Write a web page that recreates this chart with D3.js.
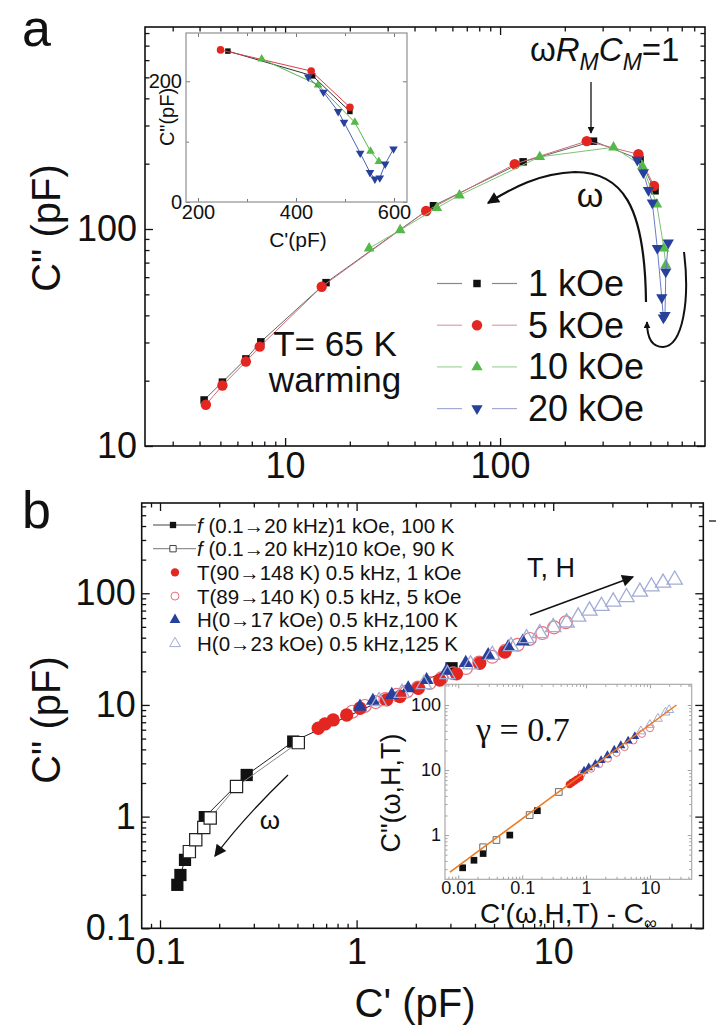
<!DOCTYPE html>
<html><head><meta charset="utf-8">
<script src="https://cdn.jsdelivr.net/npm/d3@7"></script>
<style>
body{margin:0;background:#fff}
svg{display:block}
text{font-family:"Liberation Sans",Arial,sans-serif;fill:#111}
</style></head>
<body><svg id="c" width="719" height="1029"></svg>
<script>
// ================= DATA =================
// Panel a, main (log-log)
const aLabels = ["1 kOe","5 kOe","10 kOe","20 kOe"];
const a1X  = [4.20,5.11,6.57,7.71,15.5,49.0,128,272,448,526];
const a1Y  = [16.3,19.7,25.2,30.2,56.6,128,204,254,209,150];
const a5X  = [4.28,5.11,6.57,7.62,14.8,45.3,117,253,440,520];
const a5Y  = [15.5,19.0,24.5,28.7,54.2,121,199,254,221,158];
const a10X = [24.6,34.3,50.8,64.7,153,337,459,536,578,590];
const a10Y = [81.5,98.9,125,143,215,238,195,130,81.5,68.2];
const a20X = [435,464,490,511,539,565,575,585,590,606];
const a20Y = [208,182,151,132,81.5,48.4,39.0,40.0,63.6,86.5];
const aXTicks = [10,100];
const aYTicks = [10,100];
// Panel a, inset (linear)
const i1X = [261,434,510],  i1Y = [250,209,150];
const i5X = [246,431,510],  i5Y = [252,217,157];
const i10X = [330,445,520,552,569], i10Y = [237,194,132,84,67];
const i20X = [425,456,486,498,531,551,561,571,582,599];
const i20Y = [207,182,150,132,81,49,38,40,63,88];
const iXTicks = [200,400,600], iYTicks = [0,200];

// Panel b, main (log-log)
const bLabels = ["(0.1\u219220 kHz)1 kOe, 100 K","(0.1\u219220 kHz)10 kOe, 90 K",
  "T(90\u2192148 K) 0.5 kHz, 1 kOe","T(89\u2192140 K) 0.5 kHz, 5 kOe",
  "H(0\u219217 kOe) 0.5 kHz,100 K","H(0\u219223 kOe) 0.5 kHz,125 K"];
const fBlackX = [0.1225,0.127,0.134,0.169,0.276,0.476,3.04];
const fBlackY = [0.245,0.30,0.41,0.99,2.36,4.7,21.3];
const fOpenX  = [0.141,0.152,0.167,0.18,0.245,0.505];
const fOpenY  = [0.486,0.62,0.80,0.97,1.86,4.6];
const tRedX = [0.638,0.69,0.76,0.89,1.04,1.42,1.66,2.06,2.65,3.22,4.23,5.67];
const tRedY = [6.19,6.76,7.34,8.13,9.34,11.1,11.9,14.1,16.7,19.0,23.6,29.8];
const tOpenX = [0.95,1.1,1.25,1.4,1.6,1.8,2.05,2.35,2.7,3.1,3.6,4.2,4.9,5.7,6.6,7.6,8.8,10.1,11.6];
const tOpenY = [8.7,9.8,10.6,11.3,12.3,13.2,14.3,15.7,17.3,19.2,21.4,24,27,30.5,34.6,39,44,49.5,55];
const hBlueX = [1.04,1.21,1.51,1.83,2.27,2.87,3.59,4.67,5.9,7.0];
const hBlueY = [9.66,10.9,12.3,14.1,16.7,20.3,23.8,28.0,32.9,37];
const hOpenX = [1.3,1.7,2.2,2.9,3.8,4.9,6.1,7.32,8.55,10.0,11.7,13.4,15.3,17.6,20.2,23.6,27.6,31.6,36.2,41.5];
const hOpenY = [10.8,12.8,15.3,18.8,23,28,33.5,39.5,43.8,49.6,54.6,61.7,69.8,76.9,84.1,92.1,103,115,124,132];
const bXTicks = [0.1,1,10];
const bYTicks = [0.1,1,10,100];
// Panel b, inset (log-log)
const jBlackX = [0.0117,0.0176,0.0245,0.064,0.173], jBlackY = [0.314,0.41,0.52,1.0,2.37];
const jOpenX  = [0.0245,0.0396,0.131,0.374], jOpenY = [0.65,0.84,2.03,4.6];
const jRedX = [0.55,0.6,0.66,0.72,0.8], jRedY = [6.0,6.4,6.8,7.2,7.7];
const jOpenRX = [0.85,1.2,1.6,2.2,3.0,4.0,5.5,7.5,10], jOpenRY = [8.7,10.5,12.3,15,18.4,22.5,28.5,36,44];
const jBlueX = [0.93,1.1,1.4,1.72,2.16,2.76,3.5,4.56,5.8], jBlueY = [9.7,10.9,12.3,14.1,16.7,20.3,23.8,28,32.9];
const jOpenTX = [7.2,10,13.3,17.5,20], jOpenTY = [39.5,49.6,61.7,76.9,84];
const jFitX = [0.0074,26], jFitY = [0.27,100];
const jXTicks = [0.01,0.1,1,10], jYTicks = [1,10,100];

// ================= HELPERS =================
const svg = d3.select("#c");
const zip = (X,Y)=>X.map((v,i)=>[v,Y[i]]);
const fmt = d=>String(d);

function logMinors(dom){
  const out=[]; const lo=Math.floor(Math.log10(dom[0])), hi=Math.ceil(Math.log10(dom[1]));
  for(let e=lo;e<=hi;e++) for(let m=2;m<10;m++){const v=m*Math.pow(10,e); if(v>dom[0]&&v<dom[1]) out.push(v);}
  return out;
}
function axes(g,x,y,o){
  const [x0,x1]=x.range(), [yb,yt]=y.range();
  const ax = (gen, tr, vals, size, fmtF, pad, fs) => {
    const a = g.append("g").attr("transform",tr)
      .call(gen.tickValues(vals).tickSize(size).tickSizeOuter(0).tickPadding(pad).tickFormat(fmtF));
    a.select(".domain").remove();
    a.selectAll("line").attr("stroke",o.tick).attr("stroke-width",o.tw);
    a.attr("font-family",null).attr("font-size",fs);
    a.selectAll("text").style("fill","#111");
    return a;
  };
  const xm = o.xMinor, ym = o.yMinor;
  ax(d3.axisBottom(x),`translate(0,${yb})`,o.xMajor,-o.maj,o.xFmt,o.xPad,o.fs);
  ax(d3.axisBottom(x),`translate(0,${yb})`,xm,-o.min,()=>"",0,o.fs);
  ax(d3.axisTop(x),`translate(0,${yt})`,o.xMajor,-o.maj,()=>"",0,o.fs);
  ax(d3.axisTop(x),`translate(0,${yt})`,xm,-o.min,()=>"",0,o.fs);
  ax(d3.axisLeft(y),`translate(${x0},0)`,o.yMajor,-o.maj,o.yFmt,o.yPad,o.fs);
  ax(d3.axisLeft(y),`translate(${x0},0)`,ym,-o.min,()=>"",0,o.fs);
  ax(d3.axisRight(y),`translate(${x1},0)`,o.yMajor,-o.maj,()=>"",0,o.fs);
  ax(d3.axisRight(y),`translate(${x1},0)`,ym,-o.min,()=>"",0,o.fs);
  g.append("rect").attr("x",x0).attr("y",yt).attr("width",x1-x0).attr("height",yb-yt)
    .attr("fill","none").attr("stroke",o.frame).attr("stroke-width",o.fw);
}
function series(g,x,y,pts,o){
  if(o.line){
    g.append("path").attr("d",d3.line().x(d=>x(d[0])).y(d=>y(d[1]))(pts))
     .attr("fill","none").attr("stroke",o.line).attr("stroke-width",o.lw||1);
  }
  const sym = d3.symbol().type(o.type).size(o.size);
  g.selectAll(null).data(pts).enter().append("path")
    .attr("d",sym)
    .attr("transform",d=>`translate(${x(d[0])},${y(d[1])})${o.rot?" rotate(180)":""}`)
    .attr("fill",o.fill).attr("stroke",o.stroke||"none").attr("stroke-width",o.sw||1);
}
const defs = svg.append("defs");
defs.append("marker").attr("id","ah").attr("viewBox","0 0 10 10").attr("refX",9).attr("refY",5)
  .attr("markerWidth",7).attr("markerHeight",7).attr("orient","auto").attr("markerUnits","userSpaceOnUse")
  .append("path").attr("d","M0,0L10,5L0,10z").attr("fill","#111");
defs.append("marker").attr("id","ahB").attr("viewBox","0 0 10 10").attr("refX",9).attr("refY",5)
  .attr("markerWidth",14).attr("markerHeight",12).attr("orient","auto").attr("markerUnits","userSpaceOnUse")
  .append("path").attr("d","M0,0L10,5L0,10z").attr("fill","#111");

const RED="#e3261f", GREEN="#55b84a", BLUE="#26409c", BLK="#111";

// ================= PANEL A =================
const ga = svg.append("g");
const xa = d3.scaleLog().domain([2.23,898]).range([145,705]);
const ya = d3.scaleLog().domain([10,853]).range([446,27]);
axes(ga,xa,ya,{xMajor:aXTicks,yMajor:aYTicks,xMinor:logMinors(xa.domain()),yMinor:logMinors(ya.domain()),
  maj:8,min:4.5,tick:"#111",tw:1.3,frame:"#111",fw:1.6,fs:36,xPad:6,yPad:8,xFmt:fmt,yFmt:fmt});

series(ga,xa,ya,zip(a1X,a1Y),{line:"#666",type:d3.symbolSquare,size:56,fill:BLK});
series(ga,xa,ya,zip(a5X,a5Y),{line:"#c8707c",type:d3.symbolCircle,size:85,fill:RED});
series(ga,xa,ya,zip(a10X,a10Y),{line:"#7cc474",type:d3.symbolTriangle,size:50,fill:GREEN});
series(ga,xa,ya,zip(a20X,a20Y),{line:"#6a7cc4",type:d3.symbolTriangle,size:55,fill:BLUE,rot:true});

// legend a
const legA = [{t:aLabels[0],type:d3.symbolSquare,size:56,fill:BLK,l:"#888"},
  {t:aLabels[1],type:d3.symbolCircle,size:85,fill:RED,l:"#d9a2aa"},
  {t:aLabels[2],type:d3.symbolTriangle,size:55,fill:GREEN,l:"#9fd49a"},
  {t:aLabels[3],type:d3.symbolTriangle,size:55,fill:BLUE,l:"#a3abd3",rot:true}];
legA.forEach((d,i)=>{
  const cy = 283.5 + i*41.7;
  ga.append("line").attr("x1",437).attr("x2",462).attr("y1",cy).attr("y2",cy).attr("stroke",d.l).attr("stroke-width",1.2);
  ga.append("line").attr("x1",492).attr("x2",517).attr("y1",cy).attr("y2",cy).attr("stroke",d.l).attr("stroke-width",1.2);
  ga.append("path").attr("d",d3.symbol().type(d.type).size(d.size)()).attr("fill",d.fill)
    .attr("transform",`translate(477,${cy})${d.rot?" rotate(180)":""}`);
  ga.append("text").attr("x",528).attr("y",cy+12.5).attr("font-size",36).text(d.t);
});

ga.append("text").attr("x",335).attr("y",356).attr("font-size",35).attr("text-anchor","middle").text("T= 65 K");
ga.append("text").attr("x",335).attr("y",392).attr("font-size",35).attr("text-anchor","middle").text("warming");

// omega R_M C_M = 1
const tt = ga.append("text").attr("x",530).attr("y",61).attr("font-size",33);
tt.append("tspan").text("\u03c9");
tt.append("tspan").attr("font-style","italic").text("R");
tt.append("tspan").attr("font-style","italic").attr("font-size",23).attr("dy",9).text("M");
tt.append("tspan").attr("font-style","italic").attr("dy",-9).text("C");
tt.append("tspan").attr("font-style","italic").attr("font-size",23).attr("dy",9).text("M");
tt.append("tspan").attr("dy",-9).text("=1");
ga.append("line").attr("x1",591).attr("x2",591).attr("y1",82).attr("y2",133).attr("stroke","#111").attr("stroke-width",1.3).attr("marker-end","url(#ah)");
ga.append("text").attr("x",590).attr("y",207).attr("font-size",34).attr("text-anchor","middle").text("\u03c9");
ga.append("path").attr("d","M646,302 C645,205 622,172 575,172 C540,173 512,188 488,203")
  .attr("fill","none").attr("stroke","#111").attr("stroke-width",2.2).attr("marker-end","url(#ahB)");
ga.append("path").attr("d","M684,252 C690,300 683,346 663,347 C651,347 647,337 647,322")
  .attr("fill","none").attr("stroke","#111").attr("stroke-width",2).attr("marker-end","url(#ah)");

// inset a
const gi = svg.append("g");
const xi = d3.scaleLinear().domain([175.5,626.5]).range([186,407]);
const yi = d3.scaleLinear().domain([0,280]).range([202,33]);
gi.append("rect").attr("x",186).attr("y",33).attr("width",221).attr("height",169).attr("fill","#fff");
axes(gi,xi,yi,{xMajor:iXTicks,yMajor:iYTicks,xMinor:[300,500],yMinor:[100],
  maj:4,min:3,tick:"#777",tw:1,frame:"#999",fw:1.3,fs:20,xPad:3,yPad:4,xFmt:fmt,yFmt:fmt});
series(gi,xi,yi,zip(i1X,i1Y),{line:"#333",type:d3.symbolSquare,size:30,fill:BLK});
series(gi,xi,yi,zip(i5X,i5Y),{line:"#d9414a",type:d3.symbolCircle,size:45,fill:RED});
series(gi,xi,yi,zip(i10X,i10Y),{line:"#55b84a",type:d3.symbolTriangle,size:32,fill:GREEN});
series(gi,xi,yi,zip(i20X,i20Y),{line:"#4a63b8",type:d3.symbolTriangle,size:32,fill:BLUE,rot:true});
gi.append("text").attr("x",298).attr("y",247).attr("font-size",21).attr("text-anchor","middle").text("C'(pF)");
gi.append("text").attr("transform","translate(174,117) rotate(-90)").attr("font-size",20).attr("text-anchor","middle").text("C\"(pF)");

// panel a labels
svg.append("text").attr("x",22).attr("y",46).attr("font-size",52).text("a");
svg.append("text").attr("transform","translate(60,228) rotate(-90)").attr("font-size",40).attr("text-anchor","middle").text("C\" (pF)");

// ================= PANEL B =================
const gb = svg.append("g");
const xb = d3.scaleLog().domain([0.0807,58]).range([141.7,703.3]);
const yb = d3.scaleLog().domain([0.1,643]).range([928.3,503]);
axes(gb,xb,yb,{xMajor:bXTicks,yMajor:bYTicks,xMinor:logMinors(xb.domain()),yMinor:logMinors(yb.domain()),
  maj:8,min:4.5,tick:"#111",tw:1.3,frame:"#111",fw:1.6,fs:36,xPad:10,yPad:6,xFmt:fmt,yFmt:fmt});

series(gb,xb,yb,zip(fBlackX,fBlackY),{line:"#222",type:d3.symbolSquare,size:150,fill:BLK});
series(gb,xb,yb,zip(fOpenX,fOpenY),{line:"#888",type:d3.symbolSquare,size:150,fill:"#fff",stroke:"#222",sw:1.2});
series(gb,xb,yb,zip(tOpenX,tOpenY),{type:d3.symbolCircle,size:130,fill:"none",stroke:"#e8707e",sw:1.2});
series(gb,xb,yb,zip(tRedX,tRedY),{type:d3.symbolCircle,size:140,fill:RED});
series(gb,xb,yb,zip(hBlueX,hBlueY),{type:d3.symbolTriangle,size:85,fill:BLUE});
series(gb,xb,yb,zip(hOpenX,hOpenY),{type:d3.symbolTriangle,size:100,fill:"none",stroke:"#a2acd4",sw:1.3});

// legend b
const legB = [{type:d3.symbolSquare,size:40,fill:BLK,line:"#444",f:true},
  {type:d3.symbolSquare,size:40,fill:"#fff",stroke:"#444",line:"#777",f:true},
  {type:d3.symbolCircle,size:55,fill:RED},
  {type:d3.symbolCircle,size:50,fill:"none",stroke:"#e8707e"},
  {type:d3.symbolTriangle,size:50,fill:BLUE},
  {type:d3.symbolTriangle,size:50,fill:"none",stroke:"#a2acd4"}];
legB.forEach((d,i)=>{
  const cy = 525 + i*23.7;
  if(d.line) gb.append("line").attr("x1",153).attr("x2",196).attr("y1",cy).attr("y2",cy).attr("stroke",d.line).attr("stroke-width",1);
  gb.append("path").attr("d",d3.symbol().type(d.type).size(d.size)()).attr("fill",d.fill)
    .attr("stroke",d.stroke||"none").attr("transform",`translate(${d.f?173:175},${cy})`);
  const t = gb.append("text").attr("x",197).attr("y",cy+7.5).attr("font-size",20.5);
  if(d.f){ t.append("tspan").attr("font-style","italic").text("f "); }
  t.append("tspan").text(bLabels[i]);
});

// arrows b
gb.append("text").attr("x",527).attr("y",577).attr("font-size",27).text("T, H");
gb.append("line").attr("x1",530).attr("y1",615).attr("x2",633).attr("y2",577).attr("stroke","#111").attr("stroke-width",1.5).attr("marker-end","url(#ahB)");
gb.append("path").attr("d","M288,775 C262,800 238,825 215,856").attr("fill","none").attr("stroke","#111").attr("stroke-width",1.3).attr("marker-end","url(#ahB)");
gb.append("text").attr("x",270).attr("y",829).attr("font-size",26).attr("text-anchor","middle").text("\u03c9");
gb.append("line").attr("x1",709).attr("x2",716).attr("y1",521).attr("y2",521).attr("stroke","#333").attr("stroke-width",1.5);

// inset b
const gj = svg.append("g");
const xj = d3.scaleLog().domain([0.0062,45]).range([445,691.7]);
const yj = d3.scaleLog().domain([0.209,208]).range([879.3,684.3]);
gj.append("rect").attr("x",445).attr("y",684.3).attr("width",246.7).attr("height",195).attr("fill","#fff");
axes(gj,xj,yj,{xMajor:jXTicks,yMajor:jYTicks,xMinor:logMinors(xj.domain()),yMinor:logMinors(yj.domain()),
  maj:4,min:2.5,tick:"#888",tw:0.8,frame:"#aaa",fw:1.2,fs:18,xPad:2,yPad:4,xFmt:fmt,yFmt:fmt});
series(gj,xj,yj,zip(jBlackX,jBlackY),{type:d3.symbolSquare,size:45,fill:BLK});
series(gj,xj,yj,zip(jOpenX,jOpenY),{type:d3.symbolSquare,size:45,fill:"#fff",stroke:"#444",sw:0.8});
series(gj,xj,yj,zip(jOpenRX,jOpenRY),{type:d3.symbolCircle,size:40,fill:"none",stroke:"#e8707e"});
series(gj,xj,yj,zip(jRedX,jRedY),{type:d3.symbolCircle,size:45,fill:RED});
series(gj,xj,yj,zip(jBlueX,jBlueY),{type:d3.symbolTriangle,size:35,fill:BLUE});
series(gj,xj,yj,zip(jOpenTX,jOpenTY),{type:d3.symbolTriangle,size:35,fill:"none",stroke:"#a2acd4"});
gj.append("path").attr("d",d3.line().x(d=>xj(d[0])).y(d=>yj(d[1]))(zip(jFitX,jFitY)))
  .attr("stroke","#f07a1e").attr("stroke-width",1.5).attr("fill","none");
gj.append("text").attr("x",476).attr("y",741).attr("font-size",34).style("font-family","'Liberation Serif',serif").text("\u03b3 = 0.7");
gj.append("text").attr("transform","translate(400,793) rotate(-90)").attr("font-size",27).attr("text-anchor","middle").text("C\"(\u03c9,H,T)");
const xt = gj.append("text").attr("x",480).attr("y",923).attr("font-size",28);
xt.append("tspan").text("C'(\u03c9,H,T) - C");
xt.append("tspan").attr("font-size",18).attr("dy",6).text("\u221e");

// panel b labels
svg.append("text").attr("x",22).attr("y",528).attr("font-size",52).text("b");
svg.append("text").attr("transform","translate(60,720) rotate(-90)").attr("font-size",40).attr("text-anchor","middle").text("C\" (pF)");
svg.append("text").attr("x",415).attr("y",1017).attr("font-size",40).attr("text-anchor","middle").text("C' (pF)");
</script>
</body></html>
